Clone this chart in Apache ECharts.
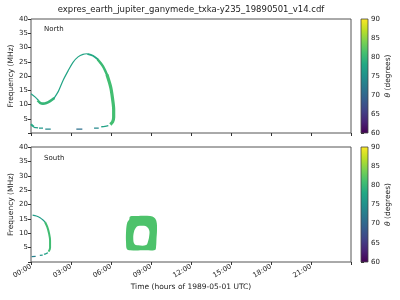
<!DOCTYPE html>
<html><head><meta charset="utf-8">
<script src="https://cdn.jsdelivr.net/npm/echarts@6/dist/echarts.min.js"></script>
<style>html,body{margin:0;padding:0;background:#fff}#c{width:400px;height:300px}</style>
</head><body><div id="c"></div>
<script>
// ---- data (time in hours of 1989-05-01 UTC, frequency in MHz, theta in degrees) ----
const titleText = 'expres_earth_jupiter_ganymede_txka-y235_19890501_v14.cdf';
const timeTickLabels = ['00:00','03:00','06:00','09:00','12:00','15:00','18:00','21:00'];
const freqTicks = [5,10,15,20,25,30,35,40];
const thetaTicks = [60,65,70,75,80,85,90];

// North hemisphere arc pieces: [hour, MHz, theta]
const northArcLeft  = [[0.0,13.8,77],[0.32,12.6,77],[0.55,11.5,78]];
const northArcMin   = [[0.5,11.4,80],[0.68,10.6,80],[0.9,10.3,80],[1.15,10.5,80],[1.4,11.1,80],[1.75,12.3,79]];
const northArcRise  = [[1.7,12.0,78],[2.05,14.6,78],[2.42,18.6,78],[2.78,21.8,78],[3.15,24.8,77],[3.53,26.7,77],[3.9,27.6,77],[4.22,27.8,77]];
const northArcPeak  = [[4.22,27.8,77],[4.65,27.1,78],[5.05,25.7,79]];
const northArcFall  = [[5.0,25.8,80],[5.4,23.4,80],[5.74,20.0,81]];
const northArcRight = [[5.7,20.4,81],[5.98,16.0,81],[6.12,11.9,81],[6.2,8.3,81],[6.2,5.5,81],[6.12,3.9,81],[5.95,3.0,80]];
const northLowA = [[0.0,3.1,78],[0.1,2.6,78],[0.22,2.2,78]];
const northLowB = [[0.2,2.0,77],[0.53,1.8,77]];
const northLowC = [[0.6,1.7,76],[0.9,1.7,76]];
const northLowD = [[1.07,1.35,74],[1.48,1.35,74]];
const northLowE = [[3.4,1.35,71],[3.85,1.35,71]];
const northLowF = [[4.73,1.7,74],[5.08,1.7,74]];
const northLowG = [[5.27,2.2,77],[5.55,2.3,77],[5.8,2.6,78]];

// South hemisphere pieces
const southArcTop   = [[0.12,16.3,76],[0.4,16.0,76],[0.68,15.4,76],[0.9,14.6,77],[1.05,13.9,78]];
const southArcRight = [[1.05,13.9,80],[1.22,12.2,81],[1.36,9.8,81],[1.43,7.5,81],[1.43,5.0,81],[1.32,3.6,80]];
const southLowA = [[1.27,3.2,77],[1.1,2.85,77],[0.97,2.75,77]];
const southLowB = [[0.88,2.4,76],[0.66,2.3,76]];
const southLowC = [[0.35,1.95,73],[0.05,1.9,73]];
// South closed emission (ring): outline and hole, [hour, MHz]
const southRingOuter = [[7.43,15.8],[7.88,16.0],[8.93,16.0],[9.25,15.4],[9.41,14.1],[9.45,11.3],[9.41,7.9],[9.38,5.4],[9.3,4.2],[8.55,4.05],[7.43,4.05],[7.2,4.4],[7.13,6.5],[7.13,10.6],[7.22,13.7],[7.37,14.8]];
const southRingInner = [[8.03,12.5],[8.4,12.6],[8.7,12.2],[8.87,11.0],[8.87,9.25],[8.78,7.2],[8.63,5.9],[8.03,5.8],[7.76,6.3],[7.67,8.2],[7.73,10.6],[7.88,12.0]];
const southRingTheta = 81.5;

// ---- style ----
const FONT = 'DejaVu Sans';
const TXT = '#222';
const viridisStops = ['#440154','#482475','#414487','#355f8d','#2a788e','#21918c','#22a884','#44bf70','#7ad151','#bddf26','#fde725'];
function hex2rgb(h){return [parseInt(h.slice(1,3),16),parseInt(h.slice(3,5),16),parseInt(h.slice(5,7),16)];}
function colorFor(theta){
  let t=(theta-60)/30; t=Math.max(0,Math.min(1,t));
  const p=t*10, i=Math.min(9,Math.floor(p)), f=p-i;
  const a=hex2rgb(viridisStops[i]), b=hex2rgb(viridisStops[i+1]);
  return 'rgb('+a.map((v,k)=>Math.round(v+(b[k]-v)*f)).join(',')+')';
}
function meanTheta(arr){return arr.reduce((s,p)=>s+p[2],0)/arr.length;}
function piece(arr, g, w){
  return {type:'line', xAxisIndex:g, yAxisIndex:g, data:arr.map(p=>[p[0],p[1]]),
    symbol:'none', showSymbol:false, smooth:0.3, silent:true, animation:false,
    lineStyle:{color:colorFor(meanTheta(arr)), width:w, cap:'butt', join:'round'}};
}

const chart = echarts.init(document.getElementById('c'), null, {renderer:'canvas'});
const grids = [
  {left:31, top:19, width:320, height:114},
  {left:31, top:147, width:320, height:115},
  {left:361, top:19, width:7, height:114},
  {left:361, top:147, width:7, height:115}
].map((g,i)=>Object.assign(g,{show:i<2, borderColor:'#555', borderWidth:1, backgroundColor:'#fff', outerBoundsMode:'none', containLabel:false}));

function timeAxis(g, showLabels){
  return {type:'value', gridIndex:g, min:0, max:24, interval:3,
    axisLine:{show:false}, splitLine:{show:false},
    axisTick:{show:true, length:3, lineStyle:{color:'#333', width:1}},
    axisLabel:{show:showLabels, rotate:30, fontSize:7, fontFamily:FONT, color:TXT, margin:4,
      formatter:v=>timeTickLabels[v/3]||''},
    name: showLabels?'Time (hours of 1989-05-01 UTC)':'', nameLocation:'middle', nameGap:21, nameMoveOverlap:false,
    nameTextStyle:{fontSize:7.5, fontFamily:FONT, color:TXT}};
}
function freqAxis(g){
  return {type:'value', gridIndex:g, min:0, max:40, interval:5,
    axisLine:{show:false}, splitLine:{show:false},
    axisTick:{show:true, length:3, lineStyle:{color:'#333', width:1}},
    axisLabel:{fontSize:7, fontFamily:FONT, color:TXT, margin:3,
      formatter:v=>freqTicks.indexOf(v)>=0?String(v):''},
    name:'Frequency (MHz)', nameLocation:'middle', nameGap:16, nameMoveOverlap:false,
    nameTextStyle:{fontSize:7.5, fontFamily:FONT, color:TXT}};
}
function cbXAxis(g){return {type:'value', gridIndex:g, min:0, max:1, show:false};}
function cbYAxis(g){
  return {type:'value', gridIndex:g, position:'right', min:60, max:90, interval:5,
    axisLine:{show:false}, splitLine:{show:false},
    axisTick:{show:true, length:3, lineStyle:{color:'#333', width:1}},
    axisLabel:{fontSize:7, fontFamily:FONT, color:TXT, margin:3,
      formatter:v=>thetaTicks.indexOf(v)>=0?String(v):''},
    name:'{i|θ} (degrees)', nameLocation:'middle', nameGap:16, nameMoveOverlap:false,
    nameTextStyle:{fontSize:7.5, fontFamily:FONT, color:TXT,
      rich:{i:{fontStyle:'italic', fontSize:7.5, fontFamily:FONT, color:TXT}}}};
}
function colorbar(g){
  return {type:'custom', xAxisIndex:g, yAxisIndex:g, data:[[0,60]], silent:true, animation:false,
    renderItem:function(params, api){
      const p0=api.coord([0,90]), p1=api.coord([1,60]);
      return {type:'rect', shape:{x:p0[0], y:p0[1], width:p1[0]-p0[0], height:p1[1]-p0[1]},
        style:{fill:new echarts.graphic.LinearGradient(0,1,0,0,
          viridisStops.map((c,i)=>({offset:i/10, color:c}))), stroke:'#444', lineWidth:0.8}};
    }};
}
const ringSeries = {type:'custom', xAxisIndex:1, yAxisIndex:1, data:[[8,10]], silent:true, animation:false,
  renderItem:function(params, api){
    return {type:'group', children:[
      {type:'polygon', shape:{points:southRingOuter.map(p=>api.coord(p)), smooth:0.4}, style:{fill:colorFor(southRingTheta)}},
      {type:'polygon', shape:{points:southRingInner.map(p=>api.coord(p)), smooth:0.4}, style:{fill:'#fff'}}
    ]};
  }};

const series = [
  piece(northArcLeft,0,1.2), piece(northArcMin,0,2.6), piece(northArcRise,0,1.2),
  piece(northArcPeak,0,1.8), piece(northArcFall,0,2.5), piece(northArcRight,0,3.2),
  piece(northLowA,0,2.0), piece(northLowB,0,1.2), piece(northLowC,0,1.2), piece(northLowD,0,1.2),
  piece(northLowE,0,1.2), piece(northLowF,0,1.2), piece(northLowG,0,1.3),
  piece(southArcTop,1,1.2), piece(southArcRight,1,2.0),
  piece(southLowA,1,1.2), piece(southLowB,1,1.2), piece(southLowC,1,1.2),
  ringSeries, colorbar(2), colorbar(3)
];

chart.setOption({
  animation:false,
  backgroundColor:'#fff',
  grid:grids,
  xAxis:[timeAxis(0,false), timeAxis(1,true), cbXAxis(2), cbXAxis(3)],
  yAxis:[freqAxis(0), freqAxis(1), cbYAxis(2), cbYAxis(3)],
  graphic:[
    {type:'text', x:191, y:10, style:{text:titleText, fontSize:8.5, fontFamily:FONT, fill:TXT, textAlign:'center', textVerticalAlign:'middle', align:'center', verticalAlign:'middle'}},
    {type:'text', x:44, y:29, style:{text:'North', fontSize:7, fontFamily:FONT, fill:TXT, textVerticalAlign:'middle', verticalAlign:'middle'}},
    {type:'text', x:44, y:158, style:{text:'South', fontSize:7, fontFamily:FONT, fill:TXT, textVerticalAlign:'middle', verticalAlign:'middle'}}
  ],
  series:series
});
</script></body></html>
